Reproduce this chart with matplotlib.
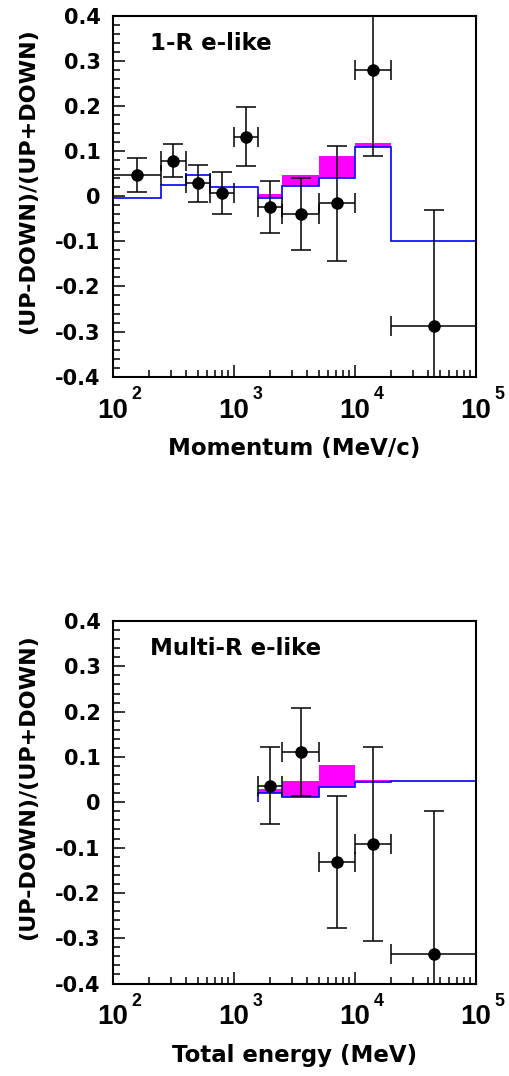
import matplotlib
matplotlib.use('Agg')
import matplotlib.pyplot as plt
import numpy as np
from matplotlib.ticker import LogLocator, NullFormatter, MultipleLocator

plt.rcParams['font.family'] = ['DejaVu Sans']
plt.rcParams['font.weight'] = 'bold'

# --- 1-R e-like (momentum) ---
edges_1r = [100, 251, 398, 631, 1000, 1585, 2512, 5012, 10000, 19953, 100000]
mc_1r = [-0.003, 0.024, 0.046, 0.021, 0.021, -0.004, 0.023, 0.041, 0.110, -0.100]
mc_hi_1r = [-0.003, 0.024, 0.046, 0.021, 0.021, 0.004, 0.047, 0.089, 0.119, -0.100]
x_1r = [158, 316, 501, 794, 1259, 1995, 3548, 7079, 14125, 44668]
y_1r = [0.047, 0.079, 0.029, 0.007, 0.132, -0.024, -0.039, -0.016, 0.280, -0.287]
yerr_1r = [0.037, 0.037, 0.041, 0.047, 0.065, 0.058, 0.080, 0.127, 0.191, 0.257]

# --- Multi-R e-like (total energy) ---
edges_mr = [1585, 2512, 5012, 10000, 19953, 100000]
mc_mr = [0.021, 0.011, 0.033, 0.044, 0.047]
mc_hi_mr = [0.030, 0.046, 0.083, 0.050, 0.047]
x_mr = [1995, 3548, 7079, 14125, 44668]
y_mr = [0.036, 0.111, -0.132, -0.092, -0.334]
yerr_mr = [0.085, 0.097, 0.146, 0.214, 0.314]

xticks = [1e2, 1e3, 1e4, 1e5]
xtick_base = ['10', '10', '10', '10']
xtick_exp = ['2', '3', '4', '5']
yticks = [-0.4, -0.3, -0.2, -0.1, 0.0, 0.1, 0.2, 0.3, 0.4]
ytick_labels = ['-0.4', '-0.3', '-0.2', '-0.1', '0', '0.1', '0.2', '0.3', '0.4']

W, H = 509, 1076
fig = plt.figure(figsize=(W / 100, H / 100), dpi=100)


def panel(rect, edges, mc, mc_hi, x, y, yerr, title, xlabel):
    ax = fig.add_axes(rect)
    ax.set_xscale('log')
    ax.set_xlim(1e2, 1e5)
    ax.set_ylim(-0.4, 0.4)

    # systematic band + MC histogram
    ax.stairs(mc_hi, edges, baseline=mc, fill=True, color='#ff00ff', lw=0, zorder=1)
    ax.stairs(mc, edges, baseline=0, color='#0000ff', lw=1.2, zorder=2)

    # data points
    x = np.array(x, dtype=float)
    e = np.array(edges, dtype=float)
    xerr = [x - e[:-1], e[1:] - x]
    ax.errorbar(x, y, xerr=xerr, yerr=yerr, fmt='o', color='black', ms=8,
                elinewidth=1.1, capsize=7, capthick=1.1, zorder=3)

    # x tick labels: "10" on the axis, exponent drawn as its own text
    ax.set_xticks(xticks, labels=xtick_base, fontfamily='Liberation Sans',
                  fontsize=20, fontweight='bold')
    for t, ex in zip(xticks, xtick_exp):
        ax.annotate(ex, xy=(t, 0), xycoords=('data', 'axes fraction'),
                    xytext=(13.4, -16.3), textcoords='offset points',
                    fontfamily='Liberation Sans', fontsize=12.8, fontweight='bold',
                    ha='left', va='baseline', annotation_clip=False)
    ax.xaxis.set_minor_locator(LogLocator(base=10, subs=np.arange(2, 10)))
    ax.xaxis.set_minor_formatter(NullFormatter())
    ax.set_yticks(yticks, labels=ytick_labels)
    ax.yaxis.set_minor_locator(MultipleLocator(0.02))

    ax.tick_params(which='both', direction='in', top=False, right=False, width=1.1)
    ax.tick_params(which='major', length=8.6)
    ax.tick_params(which='minor', length=4.7)
    ax.tick_params(axis='y', labelsize=15, pad=9)
    ax.tick_params(axis='x', pad=15)
    for s in ax.spines.values():
        s.set_linewidth(1.5)

    ax.text(0.102, 0.905, title, transform=ax.transAxes, fontsize=16.5,
            fontweight='bold', va='baseline', ha='left')
    ax.set_xlabel(xlabel, fontsize=16.5, fontweight='bold', va='top')
    ax.xaxis.set_label_coords(0.5, -0.167)
    ax.set_ylabel('(UP-DOWN)/(UP+DOWN)', fontsize=16, fontweight='bold')
    ax.yaxis.set_label_coords(-0.207, 0.542)
    return ax


panel([113 / W, 1 - 376.7 / H, 363 / W, 361 / H], edges_1r, mc_1r, mc_hi_1r,
      x_1r, y_1r, yerr_1r, '1-R e-like', 'Momentum (MeV/c)')
panel([113 / W, 1 - 983.5 / H, 363 / W, 362.5 / H], edges_mr, mc_mr, mc_hi_mr,
      x_mr, y_mr, yerr_mr, 'Multi-R e-like', 'Total energy (MeV)')

fig.savefig('out.png', dpi=100, facecolor='white')
